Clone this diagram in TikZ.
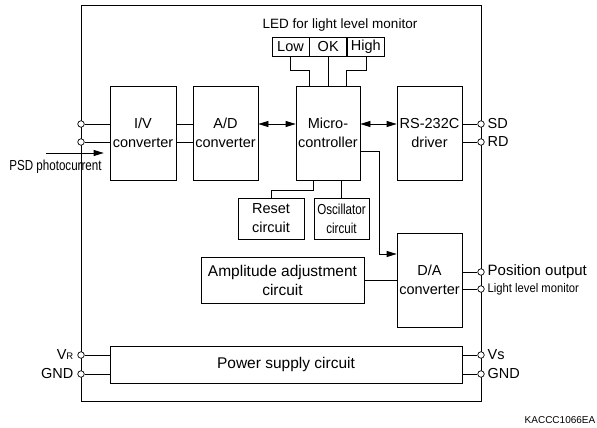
\documentclass[tikz,border=0pt]{standalone}
\usepackage{fontspec}
\usepackage{graphicx}
\setmainfont{Liberation Sans}
\usetikzlibrary{arrows.meta,positioning,calc}

\newcommand{\fsz}[1]{\fontsize{#1}{19}\selectfont}
\newcommand{\narrow}[1]{\scalebox{0.8}[1]{#1}}

\begin{document}
\begin{tikzpicture}[
  x=1pt, y=-1pt,
  font=\fsz{14.5},
  line width=0.7pt,
  box/.style={draw,align=center,inner sep=0pt},
  led/.style={draw,inner sep=0pt,minimum width=37pt,minimum height=19pt},
  term/.style={draw,circle,fill=white,inner sep=0pt,minimum size=6.5pt},
  arrow/.style={-{Triangle[length=10pt,width=6pt]}},
  darrow/.style={{Triangle[length=10pt,width=6pt]}-{Triangle[length=10pt,width=6pt]}}
]
  \useasboundingbox (0,0) rectangle (597,428);
  \draw (81,5) rectangle (481,401);

  \node[box,minimum width=66pt,minimum height=94pt] (iv) at (143,133) {I/V\\converter};
  \node[box,minimum width=65pt,minimum height=94pt] (ad) at (225.5,133) {A/D\\converter};
  \node[box,minimum width=64pt,minimum height=94pt] (mc) at (328,133) {Micro-\\controller};
  \node[box,minimum width=65pt,minimum height=94pt] (rs) at (429.5,133) {RS-232C\\driver};
  \node[box,minimum width=66pt,minimum height=41pt] (reset) at (271,218.5) {Reset\\circuit};
  \node[box,minimum width=55pt,minimum height=41pt] (osc) at (341.5,218.5) {\narrow{Oscillator}\\\narrow{circuit}};
  \node[box,font=\fsz{15.5},minimum width=163pt,minimum height=46pt] (amp) at (282.5,280) {Amplitude adjustment\\circuit};
  \node[box,minimum width=65pt,minimum height=94pt] (da) at (429.5,280) {D/A\\converter};
  \node[box,font=\fsz{15.5},minimum width=352pt,minimum height=37pt] (pwr) at (286,364.5) {Power supply circuit};

  \node[font=\fsz{13.5}] (ledl) at (340,25) {LED for light level monitor};
  \node[led] (low) at (290.5,46.5) {Low};
  \node[led,right=0pt of low] (ok) {OK};
  \node[led,right=0pt of ok] (high) {High};

  \node[term] (t1) at (81,124) {};
  \node[term] (t2) at (81,142) {};
  \node[term] (sd) at (481,124) {};
  \node[term] (rd) at (481,142) {};
  \node[term] (pos) at (481,272) {};
  \node[term] (llm) at (481,289) {};
  \node[term] (vr) at (81,355) {};
  \node[term] (gl) at (81,374) {};
  \node[term] (vs) at (481,355) {};
  \node[term] (gr) at (481,374) {};

  \node[anchor=east] (vrl) at (77,355) {V{\fontsize{9.5}{10}\selectfont R}};
  \node[anchor=east] (gll) at (77,374) {GND};
  \node[anchor=west] (sdl) at (484,124) {SD};
  \node[anchor=west] (rdl) at (484,142) {RD};
  \node[anchor=west,font=\fsz{15}] (posl) at (484,272) {Position output};
  \node[anchor=west,font=\fsz{12.5}] (llml) at (484,289) {\scalebox{0.9}[1]{Light level monitor}};
  \node[anchor=west] (vsl) at (484,355) {Vs};
  \node[anchor=west] (grl) at (484,374) {GND};
  \node (psdl) at (55.5,167) {\scalebox{0.8}[1]{PSD photocurrent}};
  \node[font=\fsz{10}] (code) at (560,420) {KACCC1066EA};

  \coordinate (psd) at (46,153);
  \coordinate (m1) at (379,151);
  \coordinate (m2) at (379,254);
  \coordinate (r1) at (313,190);
  \coordinate (l1) at (309,70);
  \coordinate (h1) at (346,70);

  \draw (t1) -- (t1 -| iv.west);
  \draw (t2) -- (t2 -| iv.west);
  \draw[arrow,shorten >=6pt] (psd) -- (psd -| iv.west);
  \draw (iv.east |- t1) -- (ad.west |- t1);
  \draw (iv.east |- t2) -- (ad.west |- t2);
  \draw[darrow] (ad.east |- t1) -- (mc.west |- t1);
  \draw[darrow] (mc.east |- sd) -- (rs.west |- sd);
  \draw (rs.east |- sd) -- (sd);
  \draw (rs.east |- rd) -- (rd);
  \draw[arrow] (m1 -| mc.east) -- (m1) -- (m2) -- (m2 -| da.west);
  \draw (amp.east) -- (amp.east -| da.west);
  \draw (da.east |- pos) -- (pos);
  \draw (da.east |- llm) -- (llm);
  \draw (r1 |- mc.south) -- (r1) -| (reset.north);
  \draw (osc.north |- mc.south) -- (osc.north);
  \draw (low.south) |- (l1) -- (l1 |- mc.north);
  \draw (ok.south) -- (ok.south |- mc.north);
  \draw (high.south) |- (h1) -- (h1 |- mc.north);
  \draw (vr) -- (vr -| pwr.west);
  \draw (gl) -- (gl -| pwr.west);
  \draw (vs) -- (vs -| pwr.east);
  \draw (gr) -- (gr -| pwr.east);
\end{tikzpicture}
\end{document}
